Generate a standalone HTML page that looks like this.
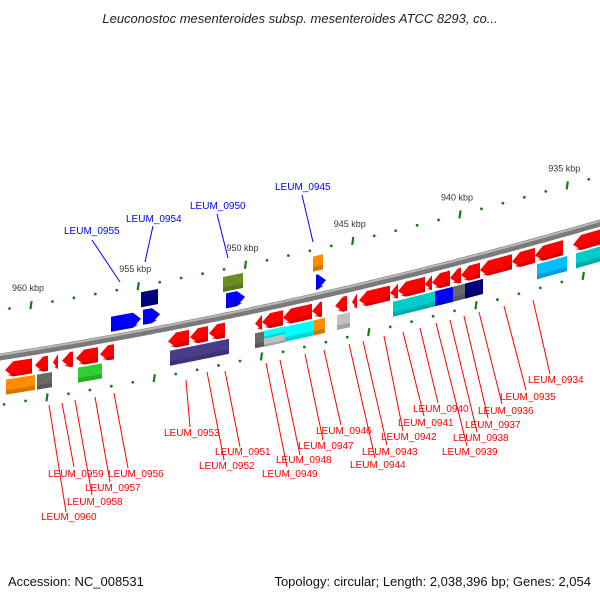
<!DOCTYPE html>
<html><head><meta charset="utf-8"><style>
html,body{margin:0;padding:0;background:#fff;}
svg{display:block;font-family:"Liberation Sans",sans-serif;}
</style></head><body>
<svg id="map" width="600" height="600" viewBox="0 0 600 600">
<text x="300" y="23" text-anchor="middle" font-size="13" font-style="italic" fill="#222">Leuconostoc mesenteroides subsp. mesenteroides ATCC 8293, co...</text>
<text x="8" y="586" font-size="13" fill="#111">Accession: NC_008531</text>
<text x="591" y="586" text-anchor="end" font-size="13" fill="#111">Topology: circular; Length: 2,038,396 bp; Genes: 2,054</text>
<g id="ticks"></g>
<g id="backbone"></g>
<g id="feats"></g>
<g id="labels"></g>
</svg>
<script>
// kbp tick labels
const tickKbp = [960, 955, 950, 945, 940, 935];
const minorKbp = [962,961,959,958,957,956,954,953,952,951,949,948,947,946,944,943,942,941,939,938,937,936,934,933];
// features: [start px, end px, row offset, color, dir]  (dir: -1 left arrow, 1 right arrow, 0 box)
const featStart = [5,35,53,62,76,100,6,37,78,111,143,141,226,223,316,313,168,190,209,170,193,212,255,262,283,312,255,264,264,285,314,335,337,352,359,390,398,425,432,450,461,480,512,535,573,393,427,435,453,465,537,576];
const featEnd   = [32,48,58,73,98,114,35,52,102,141,160,158,245,243,326,323,189,208,225,193,212,229,262,283,312,322,264,285,285,315,325,347,350,357,390,398,425,432,450,461,480,512,535,563,600,427,435,453,465,483,567,600];
const featRow   = [14,14,14,14,14,14,31,31,31,-14,-15,-33,-15,-32,-14,-33,14,14,14,31,31,31,14,14,14,14,31,27,35,31,31,14,31,14,14,14,14,14,14,14,14,14,14,14,14,31,31,31,31,31,31,31];
const featColor = ["#ff0000","#ff0000","#ff0000","#ff0000","#ff0000","#ff0000","#ff8c00","#696969","#32cd32","#0000ff","#0000ff","#000080","#0000ff","#6b8e23","#0000ff","#ff8c00","#ff0000","#ff0000","#ff0000","#483d8b","#483d8b","#483d8b","#ff0000","#ff0000","#ff0000","#ff0000","#696969","#00ffff","#c0c0c0","#00ffff","#ff8c00","#ff0000","#c0c0c0","#ff0000","#ff0000","#ff0000","#ff0000","#ff0000","#ff0000","#ff0000","#ff0000","#ff0000","#ff0000","#ff0000","#ff0000","#00cccc","#00cccc","#0000ff","#696969","#000080","#00bfff","#00cccc"];
const featDir   = [-1,-1,-1,-1,-1,-1,0,0,0,1,1,0,1,0,1,0,-1,-1,-1,0,0,0,-1,-1,-1,-1,0,0,0,0,0,-1,0,-1,-1,-1,-1,-1,-1,-1,-1,-1,-1,-1,-1,0,0,0,0,0,0,0];
// labels: name, text x, text y, line x1,y1,x2,y2
const labNames = ["LEUM_0955","LEUM_0954","LEUM_0950","LEUM_0945","LEUM_0953","LEUM_0951","LEUM_0952","LEUM_0959","LEUM_0957","LEUM_0958","LEUM_0956","LEUM_0960","LEUM_0949","LEUM_0948","LEUM_0947","LEUM_0946","LEUM_0944","LEUM_0943","LEUM_0942","LEUM_0941","LEUM_0940","LEUM_0939","LEUM_0938","LEUM_0937","LEUM_0936","LEUM_0935","LEUM_0934"];
const labX = [64,126,190,275,164,215,199,48,85,67,108,41,262,276,298,316,350,362,381,398,413,442,453,465,478,500,528];
const labY = [234,222,209,190,436,455,469,477,491,505,477,520,477,463,449,434,468,455,440,426,412,455,441,428,414,400,383];
const lineFrom = [[92,240],[153,226],[217,214],[302,195],[186,380],[225,371],[207,372],[62,403],[95,397],[75,400],[114,393],[49,405],[266,363],[280,360],[305,354],[324,350],[349,344],[363,341],[384,336],[403,332],[420,328],[436,323],[450,320],[464,316],[479,312],[504,306],[533,300]];
const lineTo = [[120,282],[145,262],[228,258],[313,242],[190,427],[240,447],[224,460],[74,467],[110,482],[92,495],[128,468],[66,512],[287,467],[300,455],[323,440],[341,425],[375,458],[387,445],[403,431],[424,416],[438,403],[467,446],[477,432],[488,418],[502,404],[526,390],[550,374]];

const NS="http://www.w3.org/2000/svg";
function yb(x){return 357-0.1567*x-0.000111*x*x;}
function slope(x){return -0.1567-0.000222*x;}
function kx(k){return 31+(960-k)*21.45;}
function pt(u,v){return u.toFixed(1)+","+(yb(u)+v).toFixed(1);}
function mk(tag,attrs,parent){const e=document.createElementNS(NS,tag);for(const k in attrs)e.setAttribute(k,attrs[k]);parent.appendChild(e);return e;}

// backbone
const bb=document.getElementById('backbone');
let d1="";
for(let x=-5;x<=605;x+=5){d1+=(x==-5?"M":"L")+x+","+(yb(x)).toFixed(1)+" ";}
const bpath=mk('path',{d:d1,stroke:"#7a7a7a","stroke-width":7,fill:"none"},bb);


const bhl=mk('path',{d:d1,stroke:"#b8b8b8","stroke-width":2,fill:"none",transform:"translate(0,-2)"},bb);



// ticks
const tg=document.getElementById('ticks');
tickKbp.forEach(k=>{
  const x=kx(k);
  [[-47,0],[48,16]].forEach(([off,sh])=>{
    const xx=x+sh, y=yb(xx)+off;
    const t=mk('line',{x1:xx+0.6,y1:y-4,x2:xx-0.6,y2:y+4,stroke:"#1a7a1a","stroke-width":2.2},tg);
    
    
  });
  const lb=mk('text',{x:x-19,y:yb(x)-61,"font-size":9,fill:"#333"},tg);
  lb.textContent=k+" kbp";
  
  
});
minorKbp.forEach(k=>{
  const x=kx(k);
  [[-47,0],[48,16]].forEach(([off,sh])=>{
    const xx=x+sh;
    const c=mk('circle',{cx:xx,cy:yb(xx)+off,r:1.4,fill:"#1a7a1a"},tg);
    
    
  });
});

// features
const fg=document.getElementById('feats');
function shade(hex,f){const n=parseInt(hex.slice(1),16);let r=n>>16,g=(n>>8)&255,b=n&255;r=Math.round(r*f);g=Math.round(g*f);b=Math.round(b*f);return "rgb("+r+","+g+","+b+")";}
for(let i=0;i<featStart.length;i++){
  const a=featStart[i],b=featEnd[i],c=featRow[i],col=featColor[i],dir=featDir[i];
  const h=(c==27||c==35)?4:7.5;
  const w=Math.min(8,(b-a));
  let pts;
  if(dir<0) pts=[pt(a,c),pt(a+w,c-h),pt(b,c-h),pt(b,c+h),pt(a+w,c+h)];
  else if(dir>0) pts=[pt(a,c-h),pt(b-w,c-h),pt(b,c),pt(b-w,c+h),pt(a,c+h)];
  else pts=[pt(a,c-h),pt(b,c-h),pt(b,c+h),pt(a,c+h)];
  const p=mk('polygon',{points:pts.join(" "),fill:col},fg);
  
  
  let sp;
  if(dir<0) sp=[pt(a+w*0.3,c+h*0.7),pt(b,c+h*0.4),pt(b,c+h),pt(a+w,c+h)];
  else if(dir>0) sp=[pt(a,c+h*0.4),pt(b-w*0.3,c+h*0.7),pt(b-w,c+h),pt(a,c+h)];
  else sp=[pt(a,c+h*0.4),pt(b,c+h*0.4),pt(b,c+h),pt(a,c+h)];
  const s=mk('polygon',{points:sp.join(" "),fill:shade(col,0.8),opacity:0.8},fg);
  
  
}

// labels
const lg=document.getElementById('labels');
for(let i=0;i<labNames.length;i++){
  const col=i<4?"#0000ff":"#ff0000";
  const ln=mk('line',{x1:lineFrom[i][0],y1:lineFrom[i][1],x2:lineTo[i][0],y2:lineTo[i][1],stroke:col,"stroke-width":1},lg);
  
  
  const t=mk('text',{x:labX[i],y:labY[i],"font-size":10,fill:col},lg);
  t.textContent=labNames[i];
  
  
}
</script>
</body></html>
